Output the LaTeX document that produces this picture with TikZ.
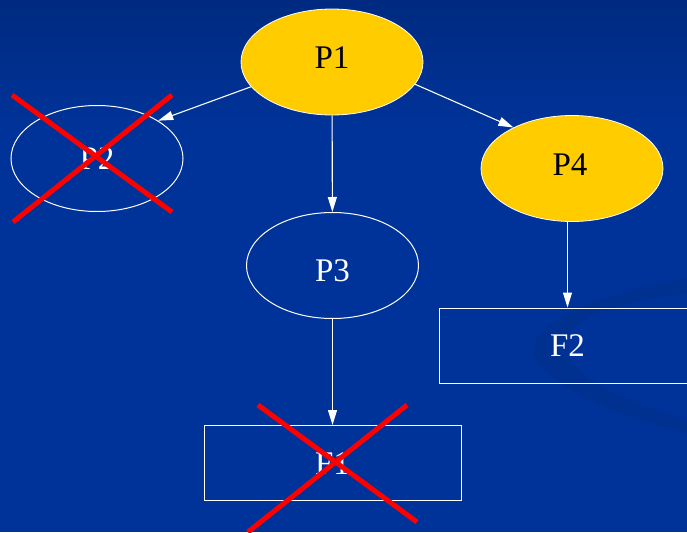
\documentclass[tikz,border=0pt]{standalone}
\usepackage{fontspec}
\setmainfont{Liberation Serif}
\usetikzlibrary{shapes.geometric,arrows.meta}

\definecolor{slideblue}{HTML}{003399}
\definecolor{slidetop}{HTML}{002A80}
\definecolor{swooshblue}{HTML}{003190}
\definecolor{procyellow}{HTML}{FFCC00}
\definecolor{crossred}{HTML}{FF0000}

\tikzset{
  labeltext/.style={font=\fontsize{33}{33}\selectfont,
    text height=22pt, text depth=0pt},
  proc/.style={ellipse, draw=white, line width=1pt, inner sep=0pt,
    minimum width=172pt, minimum height=106pt, text=white, labeltext},
  activeproc/.style={proc, fill=procyellow, text=black, line width=0.8pt,
    minimum width=182pt},
  filebox/.style={rectangle, draw=white, line width=1pt, inner sep=0pt,
    minimum width=257pt, minimum height=75pt, text=white, labeltext},
  edge/.style={draw=white, line width=1.1pt,
    -{Triangle[length=15pt,width=9pt]}},
  strike/.style={draw=crossred, line width=5pt},
}

\begin{document}
\begin{tikzpicture}[x=1pt, y=-1pt]
  % slide background
  \useasboundingbox (0,0) rectangle (687,532);
  \fill[slideblue] (0,0) rectangle (687,532);
  \shade[top color=slidetop, bottom color=slideblue] (0,0) rectangle (687,130);
  % faint decorative swoosh on the right
  \fill[swooshblue] (687,278) .. controls (600,292) and (520,325) .. (535,358)
    .. controls (552,392) and (630,418) .. (687,434)
    -- (687,420) .. controls (630,402) and (575,380) .. (566,350)
    .. controls (560,320) and (620,300) .. (687,294) -- cycle;

  % processes and files
  \node[activeproc] (P1) at (332,62) {\raisebox{4pt}{P1}};
  \node[proc] (P2) at (97,158.5) {P2};
  \node[proc] (P3) at (332.5,265.5) {\raisebox{-5pt}{P3}};
  \node[activeproc] (P4) at (572,168.5) {\hspace{-4pt}\raisebox{4pt}{P4}};
  \node[filebox] (F2) at (567.5,345.5) {F2};
  \node[filebox] (F1) at (332.5,463) {F1};

  % dependencies
  \draw[edge] (P1.197) -- (P2.north east);
  \draw[edge] (P1) -- (P3);
  \draw[edge] (P1.-15) -- (P4.145);
  \draw[edge] (P3) -- (F1);
  \draw[edge] (P4.south -| F2) -- (F2);

  % crossed-out items
  \coordinate (c2a) at (12,95);
  \coordinate (c2b) at (172,212);
  \coordinate (c2c) at (172,95);
  \coordinate (c2d) at (13,222);
  \draw[strike] (c2a) -- (c2b);
  \draw[strike] (c2c) -- (c2d);

  \coordinate (c1a) at (258,405);
  \coordinate (c1b) at (417,522);
  \coordinate (c1c) at (407,405);
  \coordinate (c1d) at (248,532);
  \draw[strike] (c1a) -- (c1b);
  \draw[strike] (c1c) -- (c1d);
\end{tikzpicture}
\end{document}
